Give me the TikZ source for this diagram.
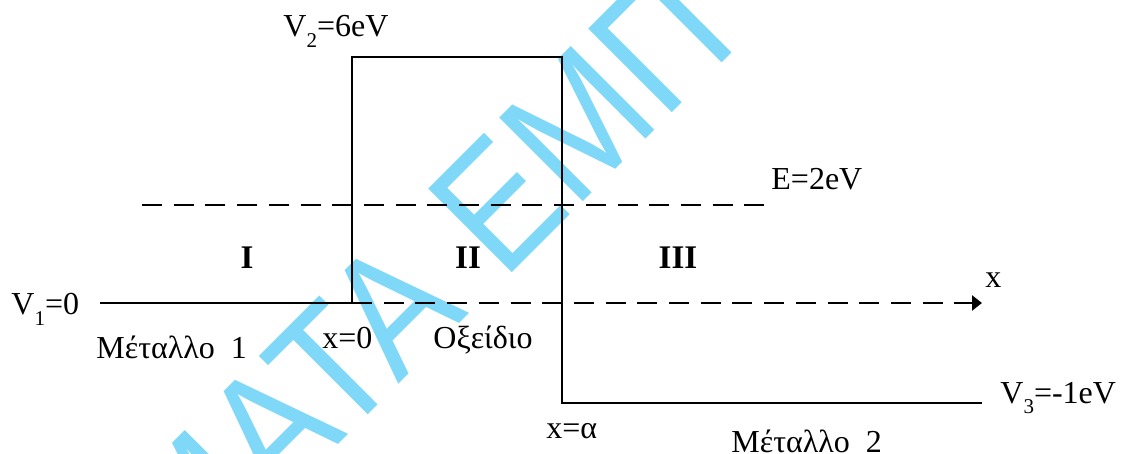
\documentclass[tikz,border=0pt]{standalone}
\usepackage{fontspec}
\setmainfont{Liberation Serif}
\newfontfamily\wmfont{Liberation Sans}
\usetikzlibrary{arrows.meta}
\definecolor{wmblue}{RGB}{128,216,248}
\newcommand\sbs[1]{\raisebox{-5.5pt}{\fontsize{10.5}{10.5}\selectfont #1}}
\newcommand\wmtext[1]{\scalebox{0.88}[1]{#1}}
\begin{document}
\begin{tikzpicture}[x=0.5pt,y=-0.5pt,
  pot/.style={line width=1.45pt, black},
  dline/.style={line width=1.45pt, black, dash pattern=on 10pt off 5.85pt},
  lbl/.style={anchor=base west, inner sep=0pt, font=\fontsize{16}{19}\selectfont},
  reg/.style={anchor=base, inner sep=0pt, font=\fontsize{16.5}{19}\selectfont\bfseries},
  wm/.style={inner sep=0pt, rotate=45, text=wmblue, font=\wmfont\fontsize{86}{90}\selectfont}]
\useasboundingbox (0,0) rectangle (1125,454);
\fill[white] (0,0) rectangle (1125,454);
% watermark
\begin{scope}
  \clip (0,0) rectangle (1125,454);
  \node[wm, anchor=base east] (wm1) at (470,313) {\wmtext{ΘΕΜΑΤΑ}};
  \node[wm, anchor=base west] (wm2) at (503,282) {\wmtext{ΕΜΠ}};
\end{scope}
% potential profile
\coordinate (L)  at (100,303);
\coordinate (B1) at (352,303);
\coordinate (B2) at (352,57);
\coordinate (B3) at (562,57);
\coordinate (B4) at (562,403);
\coordinate (R)  at (982,403);
\coordinate (Es) at (142,205);
\coordinate (Ee) at (770,205);
\coordinate (Xe) at (982,303);
\draw[pot] (L) -- (B1) -- (B2) -- (B3) -- (B4) -- (R);
\draw[dline] (Es) -- (Ee);
\draw[dline, -{Triangle[length=5pt,width=7.5pt]}] (B1) -- (Xe);
% labels
\node[lbl] (v2) at (283,37) {V\sbs{2}=6eV};
\node[lbl] (e) at (771,190) {E=2eV};
\node[reg] (r1) at (247,269) {I};
\node[reg] (r2) at (468,269) {II};
\node[reg] (r3) at (678,269) {III};
\node[lbl] (xl) at (985,288) {x};
\node[lbl] (v1) at (11,315) {V\sbs{1}=0};
\node[lbl] (m1) at (96,358) {Μέταλλο\ \ 1};
\node[lbl] (x0) at (322,349) {x=0};
\node[lbl] (ox) at (433,349) {Οξείδιο};
\node[lbl] (v3) at (1000,403) {V\sbs{3}=-1eV};
\node[lbl] (xa) at (546,438) {x=α};
\node[lbl] (m2) at (731,452) {Μέταλλο\ \ 2};
\end{tikzpicture}
\end{document}
